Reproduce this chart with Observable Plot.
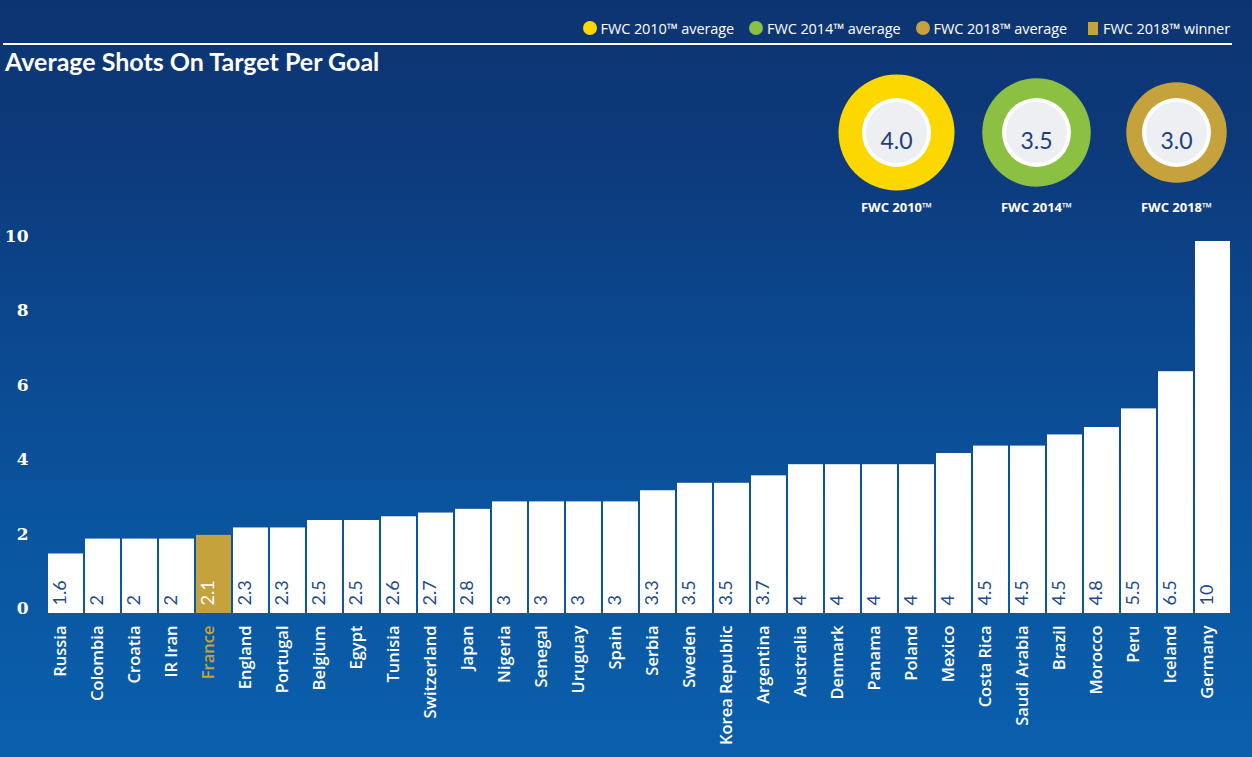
<!DOCTYPE html>
<html>
<head>
<meta charset="utf-8">
<script src="https://cdn.jsdelivr.net/npm/d3@7"></script>
<script src="https://cdn.jsdelivr.net/npm/@observablehq/plot@0.6"></script>
<style>
html, body { margin: 0; padding: 0; width: 1252px; height: 757px; overflow: hidden; }
body {
  position: relative;
  background: linear-gradient(180deg, #0d3472 0%, #0d3a7b 20%, #0b4890 45%, #0a559f 70%, #0a5fad 100%);
  font-family: "Open Sans", sans-serif;
}
#legend {
  position: absolute; top: 19px; right: 22px; height: 18px;
  display: flex; align-items: center; color: #fff; font-size: 14.5px; white-space: nowrap; letter-spacing: -0.1px;
}
#legend .item { display: flex; align-items: center; margin-left: 15px; }
#legend .sw { width: 14px; height: 14px; border-radius: 50%; margin-right: 4px; }
#legend .sq { width: 10px; height: 13px; margin-right: 5px; margin-left: 6px; }
#rule { position: absolute; left: 3px; width: 1229px; top: 43px; height: 2px; background: #fff; }
#title {
  position: absolute; left: 5px; top: 46px; color: #fff;
  font-family: Lato, sans-serif; font-weight: 700; font-size: 25px; letter-spacing: 0px;
}
#main { position: absolute; left: 0; top: 0; }
#donuts { position: absolute; left: 820px; top: 60px; }
</style>
</head>
<body>
<div id="legend"></div>
<div id="rule"></div>
<div id="title">Average Shots On Target Per Goal</div>
<div id="main"></div>
<div id="donuts"></div>
<script>
// ---- data ----
const countries = ["Russia","Colombia","Croatia","IR Iran","France","England","Portugal","Belgium","Egypt","Tunisia","Switzerland","Japan","Nigeria","Senegal","Uruguay","Spain","Serbia","Sweden","Korea Republic","Argentina","Australia","Denmark","Panama","Poland","Mexico","Costa Rica","Saudi Arabia","Brazil","Morocco","Peru","Iceland","Germany"];
const shots = [1.6,2.0,2.0,2.0,2.1,2.3,2.3,2.5,2.5,2.6,2.7,2.8,3.0,3.0,3.0,3.0,3.3,3.5,3.5,3.7,4.0,4.0,4.0,4.0,4.3,4.5,4.5,4.8,5.0,5.5,6.5,10];
const shotLabels = ["1.6","2","2","2","2.1","2.3","2.3","2.5","2.5","2.6","2.7","2.8","3","3","3","3","3.3","3.5","3.5","3.7","4","4","4","4","4","4.5","4.5","4.5","4.8","5.5","6.5","10"];
const winner = "France";
const yTicks = [0,2,4,6,8,10];
const tournaments = ["FWC 2010™","FWC 2014™","FWC 2018™"];
const tournamentAvg = [4.0,3.5,3.0];
const tournamentAvgLabels = ["4.0","3.5","3.0"];
const legendLabels = ["FWC 2010™ average","FWC 2014™ average","FWC 2018™ average","FWC 2018™ winner"];

// ---- styles ----
const GOLD = "#c6a23c";
const NAVY = "#1d4a8a";
const tournamentColors = ["#fdd800","#8cc043","#c6a23c"];

// ---- legend ----
const legend = document.getElementById("legend");
legendLabels.forEach((t, i) => {
  const it = document.createElement("div");
  it.className = "item";
  const sw = document.createElement("span");
  sw.className = i < 3 ? "sw" : "sq";
  sw.style.background = i < 3 ? tournamentColors[i] : GOLD;
  it.appendChild(sw);
  it.appendChild(document.createTextNode(t));
  legend.appendChild(it);
});

// ---- main chart ----
const rows = countries.map((c, i) => ({country: c, value: shots[i], label: shotLabels[i]}));

const main = Plot.plot({
  width: 1252,
  height: 757,
  marginLeft: 46,
  marginRight: 21,
  marginTop: 241,
  marginBottom: 144,
  style: {background: "transparent", overflow: "visible"},
  x: {type: "band", domain: countries, paddingInner: 0.06, paddingOuter: 0.03, axis: null},
  y: {domain: [0, 10], axis: null},
  marks: [
    Plot.axisY(yTicks, {
      tickSize: 0, tickPadding: 18, dy: -5, color: "white",
      fontSize: 17, fontWeight: "bold", fontFamily: "DejaVu Serif", label: null
    }),
    Plot.barY(rows, {
      x: "country", y: "value", inset: 0,
      fill: d => d.country === winner ? GOLD : "white"
    }),
    Plot.text(rows, {
      x: "country", frameAnchor: "bottom", text: "label",
      rotate: -90, textAnchor: "start", dy: -8,
      fill: d => d.country === winner ? "white" : NAVY,
      fontSize: 18, fontFamily: "Lato"
    }),
    Plot.text(rows, {
      x: "country", frameAnchor: "bottom", text: "country",
      rotate: -90, textAnchor: "end", dy: 12,
      fill: d => d.country === winner ? GOLD : "white",
      fontSize: 16.5, fontWeight: 600, fontFamily: "Open Sans"
    })
  ]
});
document.getElementById("main").appendChild(main);

// ---- tournament averages (donuts) ----
const avgRows = tournaments.map((t, i) => ({t, avg: tournamentAvg[i], label: tournamentAvgLabels[i], color: tournamentColors[i]}));

const donuts = Plot.plot({
  width: 420,
  height: 160,
  marginLeft: 76,
  marginRight: 64,
  marginTop: 72,
  marginBottom: 0,
  style: {background: "transparent", overflow: "visible"},
  x: {type: "point", domain: tournaments, padding: 0, axis: null},
  r: {type: "sqrt", domain: [0, 4], range: [0, 58]},
  marks: [
    Plot.dot(avgRows, {x: "t", r: "avg", fill: "color", frameAnchor: "top"}),
    Plot.dot(avgRows, {x: "t", r: 34.5, fill: "white", frameAnchor: "top"}),
    Plot.dot(avgRows, {x: "t", r: 30.5, fill: "#eeeff2", frameAnchor: "top"}),
    Plot.text(avgRows, {x: "t", text: "label", frameAnchor: "top", fill: "#1d3f7e", fontSize: 23, fontFamily: "Lato"}),
    Plot.text(avgRows, {x: "t", text: "t", frameAnchor: "top", dy: 70, fill: "white", fontSize: 13, fontWeight: "bold", fontFamily: "Open Sans"})
  ]
});
document.getElementById("donuts").appendChild(donuts);
</script>
</body>
</html>
